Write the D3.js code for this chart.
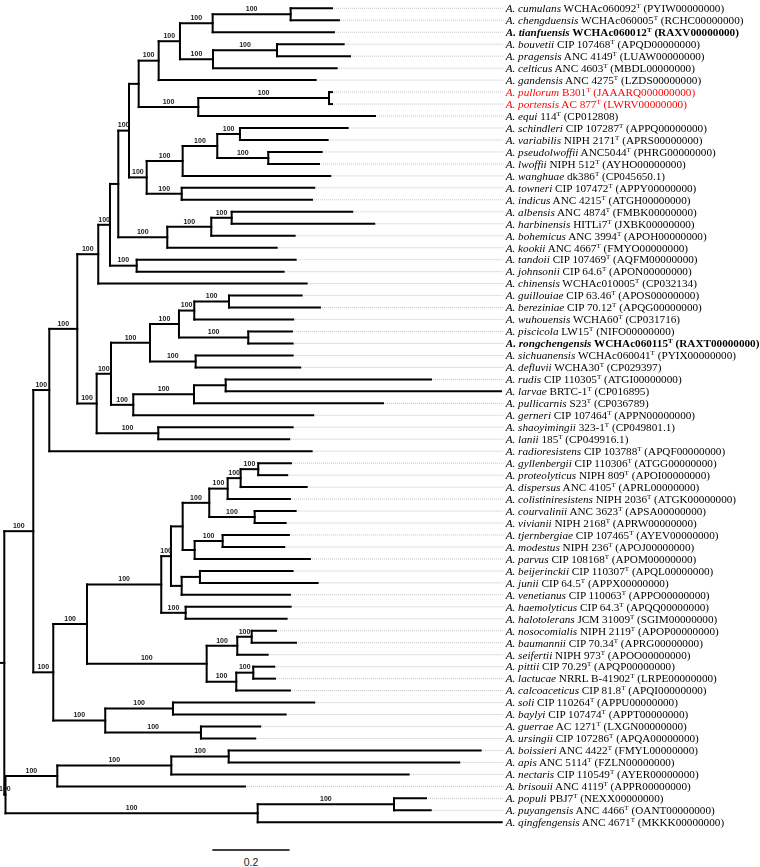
<!DOCTYPE html>
<html><head><meta charset="utf-8">
<script src="https://cdn.jsdelivr.net/npm/d3@7"></script>
<style>body{margin:0;background:#fff}svg{display:block}.bsg{opacity:0.995;will-change:opacity}</style>
</head><body><svg id="chart" width="760" height="867"></svg>
<script>
// ---- Leaf data (top to bottom) ----
const species = ["cumulans","chengduensis","tianfuensis","bouvetii","pragensis","celticus","gandensis","pullorum","portensis","equi",
"schindleri","variabilis","pseudolwoffii","lwoffii","wanghuae","towneri","indicus","albensis","harbinensis","bohemicus",
"kookii","tandoii","johnsonii","chinensis","guillouiae","bereziniae","wuhouensis","piscicola","rongchengensis","sichuanensis",
"defluvii","rudis","larvae","pullicarnis","gerneri","shaoyimingii","lanii","radioresistens","gyllenbergii","proteolyticus",
"dispersus","colistiniresistens","courvalinii","vivianii","tjernbergiae","modestus","parvus","beijerinckii","junii","venetianus",
"haemolyticus","halotolerans","nosocomialis","baumannii","seifertii","pittii","lactucae","calcoaceticus","soli","baylyi",
"guerrae","ursingii","boissieri","apis","nectaris","brisouii","populi","puyangensis","qingfengensis"];
const strains = ["WCHAc060092","WCHAc060005","WCHAc060012","CIP 107468","ANC 4149","ANC 4603","ANC 4275","B301","AC 877","114",
"CIP 107287","NIPH 2171","ANC5044","NIPH 512","dk386","CIP 107472","ANC 4215","ANC 4874","HITLi7","ANC 3994",
"ANC 4667","CIP 107469","CIP 64.6","WCHAc010005","CIP 63.46","CIP 70.12","WCHA60","LW15","WCHAc060115","WCHAc060041",
"WCHA30","CIP 110305","BRTC-1","S23","CIP 107464","323-1","185","CIP 103788","CIP 110306","NIPH 809",
"ANC 4105","NIPH 2036","ANC 3623","NIPH 2168","CIP 107465","NIPH 236","CIP 108168","CIP 110307","CIP 64.5","CIP 110063",
"CIP 64.3","JCM 31009","NIPH 2119","CIP 70.34","NIPH 973","CIP 70.29","NRRL B-41902","CIP 81.8","CIP 110264","CIP 107474",
"AC 1271","CIP 107286","ANC 4422","ANC 5114","CIP 110549","ANC 4119","PBJ7","ANC 4466","ANC 4671"];
const accessions = ["PYIW00000000","RCHC00000000","RAXV00000000","APQD00000000","LUAW00000000","MBDL00000000","LZDS00000000","JAAARQ000000000","LWRV00000000","CP012808",
"APPQ00000000","APRS00000000","PHRG00000000","AYHO00000000","CP045650.1","APPY00000000","ATGH00000000","FMBK00000000","JXBK00000000","APOH00000000",
"FMYO00000000","AQFM00000000","APON00000000","CP032134","APOS00000000","APQG00000000","CP031716","NIFO00000000","RAXT00000000","PYIX00000000",
"CP029397","ATGI00000000","CP016895","CP036789","APPN00000000","CP049801.1","CP049916.1","APQF00000000","ATGG00000000","APOI00000000",
"APRL00000000","ATGK00000000","APSA00000000","APRW00000000","AYEV00000000","APOJ00000000","APOM00000000","APQL00000000","APPX00000000","APPO00000000",
"APQQ00000000","SGIM00000000","APOP00000000","APRG00000000","APOO00000000","APQP00000000","LRPE00000000","APQI00000000","APPU00000000","APPT00000000",
"LXGN00000000","APQA00000000","FMYL00000000","FZLN00000000","AYER00000000","APPR00000000","NEXX00000000","OANT00000000","MKKK00000000"];
const boldLeaves = ["tianfuensis","rongchengensis"];
const redLeaves = ["pullorum","portensis"];

// ---- Tree topology: [node, parent, branch length, bootstrap] (children in top-to-bottom order) ----
const branches = [
["root","",0,null],
["AM","root",0.0750,100],["AL","AM",0.0414,100],["Y","AL",0.0724,100],["X","Y",0.0543,100],["W","X",0.0303,100],
["K","W",0.0215,null],["J","K",0.0277,100],["I","J",0.0251,null],["F","I",0.0517,100],["E","F",0.0551,100],
["B","E",0.0846,100],["A","B",0.2018,100],["cumulans","A",0.1069],["chengduensis","A",0.1250],["tianfuensis","B",0.3138],
["D","E",0.0854,100],["C","D",0.1656,100],["bouvetii","C",0.1726],["pragensis","C",0.1889],["celticus","D",0.3201],
["gandensis","F",0.4062],["H","I",0.1542,100],["G","H",0.3382,100],["pullorum","G",0.0078],["portensis","G",0.0078],["equi","H",0.4572],
["Q","J",0.0458,100],["N","Q",0.0931,100],["M","N",0.0895,100],["L","M",0.0587,100],["schindleri","L",0.2787],["variabilis","L",0.2269],
["O","M",0.1320,100],["pseudolwoffii","O",0.1382],["lwoffii","O",0.1312],["wanghuae","N",0.3819],
["P","Q",0.0906,100],["towneri","P",0.3431],["indicus","P",0.3371],
["S","K",0.1268,100],["T","S",0.1138,100],["U","T",0.0528,100],["albensis","U",0.3120],["harbinensis","U",0.3690],
["bohemicus","T",0.2158],["kookii","S",0.2831],
["V","W",0.0691,100],["tandoii","V",0.4114],["johnsonii","V",0.3803],["chinensis","X",0.5392],
["Z","Y",0.0502,100],["AJ","Z",0.0370,100],["AF","AJ",0.1009,100],["AD","AF",0.0750,100],["AB","AD",0.0396,100],
["AA","AB",0.0898,100],["guillouiae","AA",0.1881],["bereziniae","AA",0.2354],["wuhouensis","AB",0.2561],
["AC","AD",0.1793,100],["piscicola","AC",0.1131],["rongchengensis","AC",0.1149],
["AE","AF",0.1182,100],["sichuanensis","AE",0.2510],["defluvii","AE",0.2706],
["AI","AJ",0.0577,100],["AH","AI",0.1571,100],["AG","AH",0.0820,null],["rudis","AG",0.5312],["larvae","AG",0.7123],
["pullicarnis","AH",0.4890],["gerneri","AI",0.4657],
["AK","Z",0.1594,100],["shaoyimingii","AK",0.3477],["lanii","AK",0.3389],
["radioresistens","AL",0.6789],
["BA","AM",0.0517,100],["CN","BA",0.0872,100],["CL","CN",0.1922,100],["CI","CL",0.0251,100],["CH","CI",0.0303,null],
["CE","CH",0.0688,100],["CC","CE",0.0476,100],["CB","CC",0.0336,100],["CA","CB",0.0455,100],
["gyllenbergii","CA",0.0846],["proteolyticus","CA",0.0750],["dispersus","CB",0.1708],["colistiniresistens","CC",0.1612],
["CD","CE",0.1175,100],["courvalinii","CD",0.1061],["vivianii","CD",0.0802],
["CG","CH",0.0310,null],["CF","CG",0.0724,100],["tjernbergiae","CF",0.1715],["modestus","CF",0.1594],["parvus","CG",0.2983],
["CJ","CI",0.0277,null],["CK","CJ",0.0473,null],["beijerinckii","CK",0.2398],["junii","CK",0.3045],["venetianus","CJ",0.2802],
["CM","CL",0.0631,100],["haemolyticus","CM",0.2717],["halotolerans","CM",0.2613],
["CO","CN",0.3097,100],["CP","CO",0.0792,100],["CQ","CP",0.0373,100],["nosocomialis","CQ",0.0629],["baumannii","CQ",0.1146],
["seifertii","CP",0.0787],["CR","CO",0.0766,100],["CS","CR",0.0440,100],["pittii","CS",0.0543],["lactucae","CS",0.0561],
["calcoaceticus","CR",0.1389],
["CU","BA",0.1345,100],["CV","CU",0.1752,100],["soli","CV",0.3656],["baylyi","CV",0.2916],
["CW","CU",0.2476,100],["guerrae","CW",0.1534],["ursingii","CW",0.1405],
["N2","root",0.0031,100],["DA","N2",0.1340,100],["DC","DA",0.2950,100],["DD","DC",0.1485,100],
["boissieri","DD",0.6520],["apis","DD",0.5966],["nectaris","DC",0.6142],["brisouii","DA",0.4856],
["DB","N2",0.6525,100],["DE","DB",0.3527,100],["populi","DE",0.0828],["puyangensis","DE",0.0950],["qingfengensis","DB",0.6313]
];
const scaleBarValue = 0.2;
const scaleBarLabel = "0.2";

// ---- Layout ----
const svg = d3.select("#chart");
const x = d3.scaleLinear().domain([0, 1]).range([4.3, 390.8]);
const y = d3.scaleLinear().domain([0, species.length - 1]).range([8.3, 822.3]);
const labelX = 505.7;

const root = d3.stratify().id(d => d[0]).parentId(d => d[1] || null)(branches);
root.eachBefore(n => { n.dist = n.parent ? n.parent.dist + n.data[2] : 0; n.px = x(n.dist); });
root.eachAfter(n => {
  if (!n.children) n.py = y(species.indexOf(n.id));
  else n.py = (n.children[0].py + n.children[n.children.length - 1].py) / 2;
});

const g = svg.append("g");
// leader dotted lines
g.selectAll("line.lead").data(root.leaves()).join("line")
  .attr("x1", d => d.px + 2).attr("x2", labelX - 2)
  .attr("y1", d => d.py).attr("y2", d => d.py)
  .attr("stroke", "#b4b4b4").attr("stroke-width", 0.8).attr("stroke-dasharray", "1,1");

// branches
const paths = [];
root.each(n => {
  if (n.parent) paths.push(`M${n.parent.px},${n.py}H${n.px}`);
  if (n.children) paths.push(`M${n.px},${n.children[0].py}V${n.children[n.children.length-1].py}`);
});
paths.push(`M0,${root.py}H${root.px}`);
g.selectAll("path.br").data(paths).join("path")
  .attr("d", d => d).attr("fill", "none").attr("stroke", "#000")
  .attr("stroke-width", 2).attr("stroke-linecap", "square");

// bootstrap labels
const bsg = svg.append("g").attr("class", "bsg");
bsg.selectAll("text.bs").data(root.descendants().filter(n => n.parent && n.children && n.data[3] != null)).join("text")
  .attr("x", d => (d.parent.px + d.px) / 2).attr("y", d => d.py - 3.2)
  .attr("text-anchor", "middle").attr("font-family", "Liberation Sans, Arial, sans-serif")
  .attr("font-weight", "bold").attr("font-size", 7).attr("fill", "#1a1a1a")
  .text(d => d.data[3]);

// leaf labels
const lg = svg.append("g").attr("class", "bsg");
species.forEach((sp, i) => {
  const bold = boldLeaves.includes(sp), red = redLeaves.includes(sp);
  const t = lg.append("text").attr("x", labelX).attr("y", y(i) + 3.8)
    .attr("font-family", "Liberation Serif, 'Times New Roman', serif").attr("font-size", 11.2)
    .attr("font-weight", bold ? "bold" : "normal").attr("fill", red ? "#ff0000" : "#000");
  t.append("tspan").attr("font-style", "italic").text("A. " + sp);
  t.append("tspan").text(" " + strains[i]);
  t.append("tspan").attr("font-size", 7).attr("dy", -4).text("T");
  t.append("tspan").attr("dy", 4).text(" (" + accessions[i] + ")");
});

// scale bar
const sbX = 212.3, sbY = 850;
const sbLen = x(scaleBarValue) - x(0);
svg.append("line").attr("x1", sbX).attr("x2", sbX + sbLen).attr("y1", sbY).attr("y2", sbY)
  .attr("stroke", "#000").attr("stroke-width", 1.3);
svg.append("text").attr("x", sbX + sbLen / 2).attr("y", 866).attr("text-anchor", "middle")
  .attr("font-family", "Liberation Sans, Arial, sans-serif").attr("font-size", 10.5).attr("fill", "#222")
  .text(scaleBarLabel);
</script></body></html>
